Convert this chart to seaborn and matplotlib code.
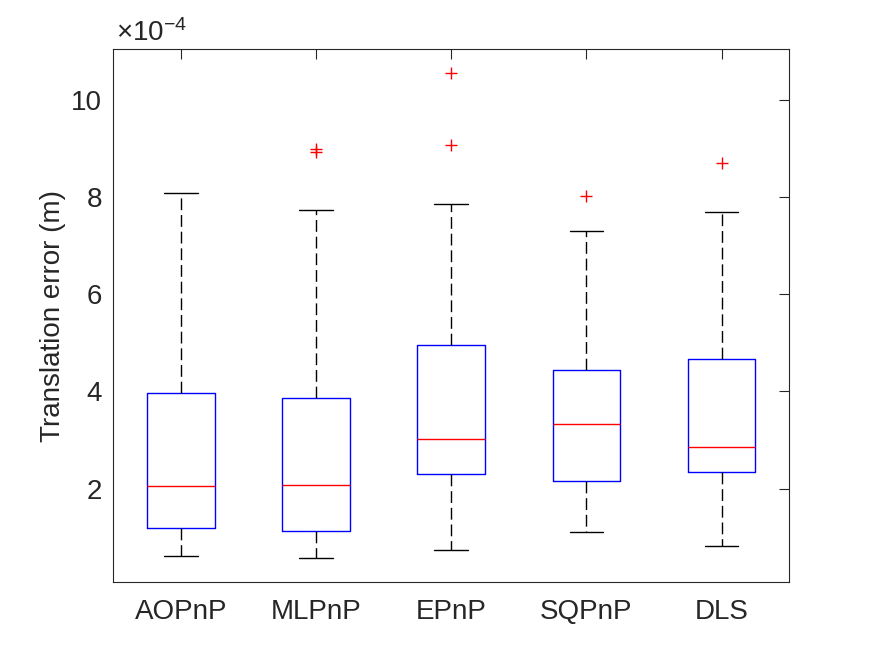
import matplotlib
matplotlib.use("Agg")
import matplotlib.pyplot as plt
from matplotlib.ticker import FuncFormatter
import seaborn as sns

# ---- data (values in metres) ----
methods = ["AOPnP", "MLPnP", "EPnP", "SQPnP", "DLS"]
whisker_low = [0.616e-4, 0.569e-4, 0.739e-4, 1.103e-4, 0.821e-4]
q1 = [1.185e-4, 1.123e-4, 2.308e-4, 2.157e-4, 2.341e-4]
median = [2.053e-4, 2.068e-4, 3.027e-4, 3.335e-4, 2.854e-4]
q3 = [3.963e-4, 3.860e-4, 4.957e-4, 4.450e-4, 4.669e-4]
whisker_high = [8.09e-4, 7.735e-4, 7.865e-4, 7.304e-4, 7.70e-4]
outliers = [[], [8.994e-4, 8.926e-4], [10.548e-4, 9.07e-4], [8.023e-4], [8.694e-4]]
yticks = [2e-4, 4e-4, 6e-4, 8e-4, 10e-4]
scale = 1e-4

sns.set_style("white")
plt.rcParams["font.family"] = ["Liberation Sans", "DejaVu Sans"]
plt.rcParams["mathtext.fontset"] = "custom"
plt.rcParams["mathtext.rm"] = "Liberation Sans"
plt.rcParams["mathtext.it"] = "Liberation Sans:italic"

axcol = (0.15, 0.15, 0.15)

fig = plt.figure(figsize=(8.72, 6.54), dpi=100)
ax = fig.add_axes([0.13, 0.11, 0.775, 0.815])

stats = []
for i, m in enumerate(methods):
    stats.append(dict(label=m, whislo=whisker_low[i], q1=q1[i], med=median[i],
                      q3=q3[i], whishi=whisker_high[i], fliers=outliers[i]))

ax.bxp(stats, positions=range(1, len(methods) + 1), widths=0.5, capwidths=0.25,
       boxprops=dict(color=(0, 0, 1), linewidth=1.0),
       medianprops=dict(color=(1, 0, 0), linewidth=1.0),
       whiskerprops=dict(color="black", linewidth=1.0, linestyle=(0, (8.5, 3.5))),
       capprops=dict(color="black", linewidth=1.0),
       flierprops=dict(marker="+", markeredgecolor=(1, 0, 0), markersize=8.5,
                       markeredgewidth=1.0, linestyle="none"))

ax.set_xlim(0.5, 5.5)
ax.set_ylim(0.076e-4, 11.05e-4)
ax.set_yticks(yticks)
ax.yaxis.set_major_formatter(FuncFormatter(lambda v, p: f"{v / scale:g}"))

ax.annotate("×10$^{-4}$", xy=(0, 1), xycoords="axes fraction",
            xytext=(2.0, 5.5), textcoords="offset points",
            ha="left", va="baseline", fontsize=20, color=axcol)

ax.set_ylabel("Translation error (m)", fontsize=20, color=axcol, labelpad=3.5)

ax.tick_params(axis="both", direction="in", length=7, width=0.8, colors=axcol,
               labelsize=20, top=True, right=True, labelcolor=axcol)
ax.tick_params(axis="y", pad=8)
ax.tick_params(axis="x", pad=12)
for s in ax.spines.values():
    s.set_color(axcol)
    s.set_linewidth(0.8)
    s.set_visible(True)

fig.savefig("out.png", dpi=100)
